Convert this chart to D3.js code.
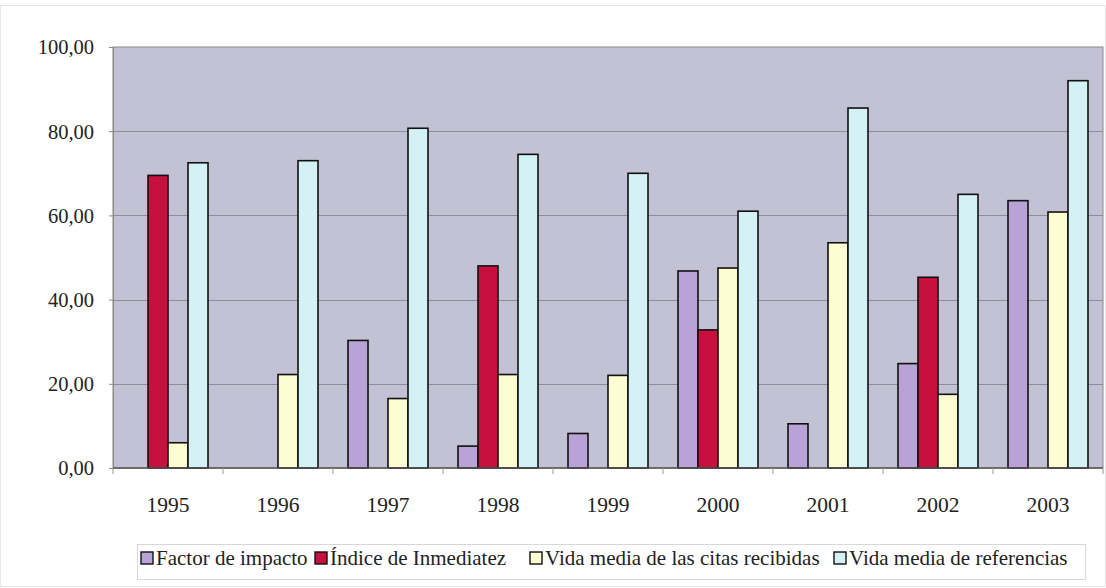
<!DOCTYPE html>
<html>
<head>
<meta charset="utf-8">
<script src="https://cdn.jsdelivr.net/npm/d3@7"></script>
<style>
  body { margin: 0; background: #fff; }
</style>
</head>
<body>
<svg id="chart" width="1106" height="588"></svg>
<script>
// Data
const years = ['1995', '1996', '1997', '1998', '1999', '2000', '2001', '2002', '2003'];
const seriesNames = ['Factor de impacto', 'Índice de Inmediatez', 'Vida media de las citas recibidas', 'Vida media de referencias'];
const factorImpacto = [0, 0, 30.3, 5.2, 8.2, 46.8, 10.5, 24.8, 63.5];
const indiceInmediatez = [69.5, 0, 0, 48.0, 0, 32.8, 0, 45.3, 0];
const vidaCitas = [6.0, 22.2, 16.5, 22.2, 22.0, 47.5, 53.5, 17.5, 60.8];
const vidaReferencias = [72.5, 73.0, 80.7, 74.5, 70.0, 61.0, 85.5, 65.0, 92.0];
const yTicks = [0, 20, 40, 60, 80, 100];

const colors = ['#b9a3d6', '#c8103e', '#fdfcd2', '#d4f1f5'];
const allSeries = [factorImpacto, indiceInmediatez, vidaCitas, vidaReferencias];
const FONT = '"Liberation Serif"';

const svg = d3.select('#chart');
const margin = { top: 47, right: 3, bottom: 120, left: 113 };
const width = 1106 - margin.left - margin.right;
const height = 588 - margin.top - margin.bottom;

// faint outer frame
svg.append('rect')
  .attr('x', 0.5).attr('y', 5.5)
  .attr('width', 1105).attr('height', 581)
  .attr('fill', 'none')
  .attr('stroke', '#e6e6e6');

const g = svg.append('g').attr('transform', `translate(${margin.left},${margin.top})`);

const x0 = d3.scaleBand().domain(years).range([0, width]).paddingInner(0.2727).paddingOuter(0.1364);
const step = width / years.length;
const barW = step / 5.5;
const y = d3.scaleLinear().domain([0, 100]).range([height, 0]);

// plot background
g.append('rect')
  .attr('width', width).attr('height', height)
  .attr('fill', '#c3c2d5')
  .attr('stroke', '#8a8a8a');

// gridlines
g.append('g')
  .selectAll('line')
  .data(yTicks.filter(d => d > 0 && d < 100))
  .join('line')
  .attr('x1', 0).attr('x2', width)
  .attr('y1', d => Math.round(y(d)) + 0.5)
  .attr('y2', d => Math.round(y(d)) + 0.5)
  .attr('stroke', '#8d8d98');

// y axis labels
const yAxis = d3.axisLeft(y)
  .tickValues(yTicks)
  .tickSize(4)
  .tickFormat(d => d3.format('.2f')(d).replace('.', ','));
const yG = g.append('g').call(yAxis);
yG.attr('font-family', null);
yG.select('.domain').attr('stroke', '#8a8a8a');
yG.selectAll('line').attr('stroke', '#8a8a8a');
yG.selectAll('text')
  .style('font-family', FONT)
  .style('font-size', '20.5px')
  .attr('fill', '#222')
  .attr('x', -19)
  .attr('dy', '0.34em');

// bars
const groups = g.append('g')
  .selectAll('g')
  .data(years)
  .join('g')
  .attr('transform', d => `translate(${x0(d)},0)`);

groups.selectAll('rect')
  .data((d, i) => allSeries.map((s, k) => ({ k, v: s[i] })).filter(e => e.v > 0))
  .join('rect')
  .attr('x', d => d.k * barW)
  .attr('y', d => y(d.v))
  .attr('width', barW)
  .attr('height', d => height - y(d.v))
  .attr('fill', d => colors[d.k])
  .attr('stroke', '#111')
  .attr('stroke-width', 1.6);

// x axis
const xAxisLine = g.append('g').attr('transform', `translate(0,${height})`);
xAxisLine.append('line')
  .attr('x1', 0).attr('x2', width)
  .attr('stroke', '#555').attr('stroke-width', 1.5);
xAxisLine.selectAll('.tick-mark')
  .data(d3.range(years.length + 1))
  .join('line')
  .attr('class', 'tick-mark')
  .attr('x1', d => d * step).attr('x2', d => d * step)
  .attr('y1', 0).attr('y2', 6)
  .attr('stroke', '#999');
xAxisLine.selectAll('text')
  .data(years)
  .join('text')
  .attr('x', d => x0(d) + x0.bandwidth() / 2)
  .attr('y', 44)
  .attr('text-anchor', 'middle')
  .style('font-family', FONT)
  .style('font-size', '21.5px')
  .attr('fill', '#222')
  .text(d => d);

// legend
const legend = svg.append('g');
legend.append('rect')
  .attr('x', 137.5).attr('y', 544.5)
  .attr('width', 948).attr('height', 35)
  .attr('fill', '#fff')
  .attr('stroke', '#d8d8d8');

const legendX = [141, 315, 530, 834];
const items = legend.selectAll('g.item')
  .data(seriesNames)
  .join('g')
  .attr('class', 'item')
  .attr('transform', (d, i) => `translate(${legendX[i]},565)`);
items.append('rect')
  .attr('x', 0).attr('y', -13)
  .attr('width', 12).attr('height', 12)
  .attr('fill', (d, i) => colors[i])
  .attr('stroke', '#111')
  .attr('stroke-width', 1.4);
items.append('text')
  .attr('x', 15).attr('y', 0)
  .style('font-family', FONT)
  .style('font-size', '21px')
  .attr('fill', '#222')
  .text(d => d);
</script>
</body>
</html>
